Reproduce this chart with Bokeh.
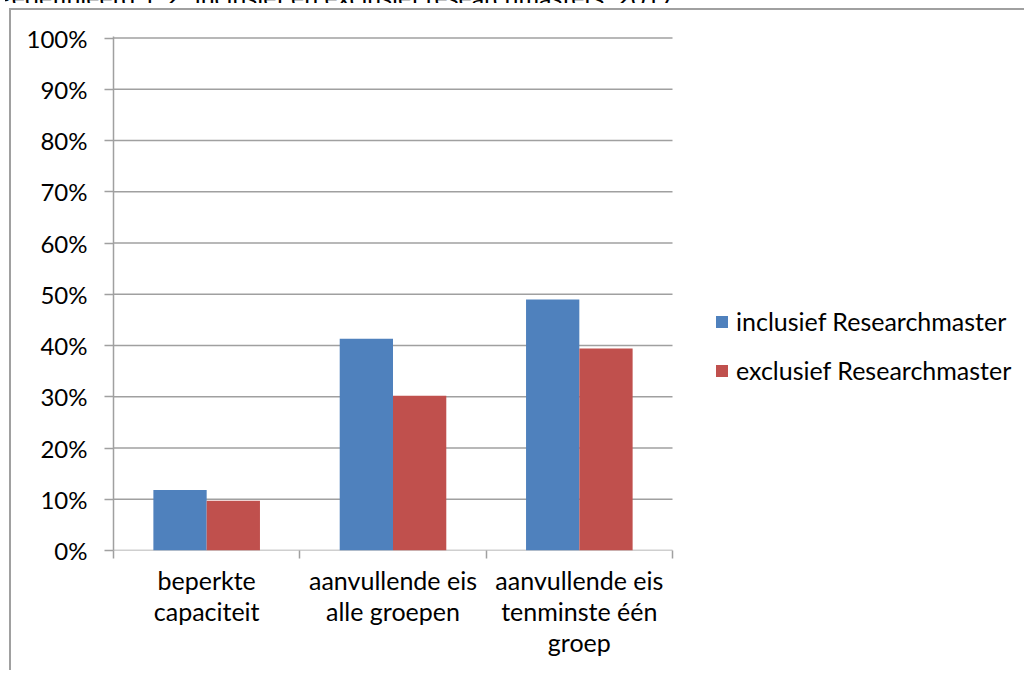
from bokeh.plotting import figure
from bokeh.models import (Range1d, FixedTicker, NumeralTickFormatter, Legend,
                          LegendItem, ColumnDataSource, Div)
from bokeh.layouts import column
from bokeh.transform import dodge
from bokeh.embed import file_html
from bokeh.resources import INLINE

# ---- data ----
title_text = "gedefinieerd 1-2', inclusief en exclusief researchmasters, 2017"
categories = ["beperkte\ncapaciteit",
              "aanvullende eis\nalle groepen",
              "aanvullende eis\ntenminste één\ngroep"]
series_names = ["inclusief Researchmaster", "exclusief Researchmaster"]
inclusief = [0.118, 0.413, 0.490]
exclusief = [0.097, 0.302, 0.394]
y_ticks = [0.0, 0.1, 0.2, 0.3, 0.4, 0.5, 0.6, 0.7, 0.8, 0.9, 1.0]

# ---- style ----
FONT = "Lato"
FS = "25px"
GRAY = "#a0a0a0"
BLUE = "#4f81bd"
RED = "#c0504d"

W, H = 1015, 662
LEFT, TOP, BOTTOM = 102, 26, 122
PLOT_W = 559  # pixel width of the category area

n = len(categories)
centers = [i + 0.5 for i in range(n)]
bounds = [float(i) for i in range(n + 1)]
src = ColumnDataSource(dict(x=centers, inc=inclusief, exc=exclusief))
grid_src = ColumnDataSource(dict(y=y_ticks, x0=[0] * len(y_ticks), x1=[n] * len(y_ticks)))

x_end = n * (W - LEFT) / PLOT_W

p = figure(width=W, height=H,
           x_range=Range1d(0, x_end), y_range=Range1d(0, 1.003),
           output_backend="svg", toolbar_location=None,
           min_border_left=LEFT, min_border_right=0,
           min_border_top=TOP, min_border_bottom=BOTTOM)
p.outline_line_color = None
p.background_fill_color = "white"
p.border_fill_color = "white"
p.xgrid.visible = False
p.ygrid.visible = False

# gridlines (only across the category area)
p.segment(x0="x0", x1="x1", y0="y", y1="y", source=grid_src,
          line_color=GRAY, line_width=1.5)

bw = 0.286
r_inc = p.vbar(x=dodge("x", -bw / 2, range=p.x_range), top="inc", width=bw,
               source=src, fill_color=BLUE, line_color=None)
r_exc = p.vbar(x=dodge("x", bw / 2, range=p.x_range), top="exc", width=bw,
               source=src, fill_color=RED, line_color=None)

# x axis
xa = p.xaxis[0]
xa.ticker = FixedTicker(ticks=centers, minor_ticks=bounds)
xa.major_label_overrides = {c: lab for c, lab in zip(centers, categories)}
xa.axis_line_color = None
xa.major_tick_line_color = None
xa.major_tick_out = 0
xa.major_tick_in = 0
xa.minor_tick_out = 8
xa.minor_tick_in = 0
xa.minor_tick_line_color = GRAY
xa.minor_tick_line_width = 1.5
xa.major_label_standoff = 6
xa.major_label_text_font = FONT
xa.major_label_text_font_size = FS
xa.major_label_text_color = "black"
xa.major_label_text_line_height = 1.04

# y axis
ya = p.yaxis[0]
ya.ticker = FixedTicker(ticks=y_ticks)
ya.formatter = NumeralTickFormatter(format="0%")
ya.major_tick_out = 9
ya.major_tick_in = 0
ya.minor_tick_line_color = None
ya.major_tick_line_color = GRAY
ya.major_tick_line_width = 1.5
ya.axis_line_color = GRAY
ya.axis_line_width = 1.5
ya.major_label_standoff = 17
ya.major_label_text_font = FONT
ya.major_label_text_font_size = "24px"
ya.major_label_text_color = "black"

legend = Legend(items=[LegendItem(label=series_names[0], renderers=[r_inc]),
                       LegendItem(label=series_names[1], renderers=[r_exc])],
                location=(601, 165), orientation="vertical")
legend.margin = 0
legend.padding = 0
legend.border_line_color = None
legend.background_fill_alpha = 0
legend.glyph_width = 15
legend.glyph_height = 15
legend.label_height = 30
legend.spacing = 19
legend.label_standoff = 7
legend.label_text_font = FONT
legend.label_text_font_size = FS
legend.label_text_color = "black"
p.add_layout(legend)

p.styles = {"border-top": f"2px solid {GRAY}", "border-left": f"2px solid {GRAY}",
            "margin-left": "9px"}

title_div = Div(
    text=('<div style="font-family:Lato;font-size:25px;line-height:30px;'
          'white-space:nowrap;margin-top:-22px;margin-left:-6px;color:#000">'
          + title_text + '</div>'),
    width=1026, height=8, styles={"overflow": "hidden"})

layout = column(title_div, p, styles={"margin-top": "-10px"})

open("out.html", "w").write(file_html(layout, INLINE))
